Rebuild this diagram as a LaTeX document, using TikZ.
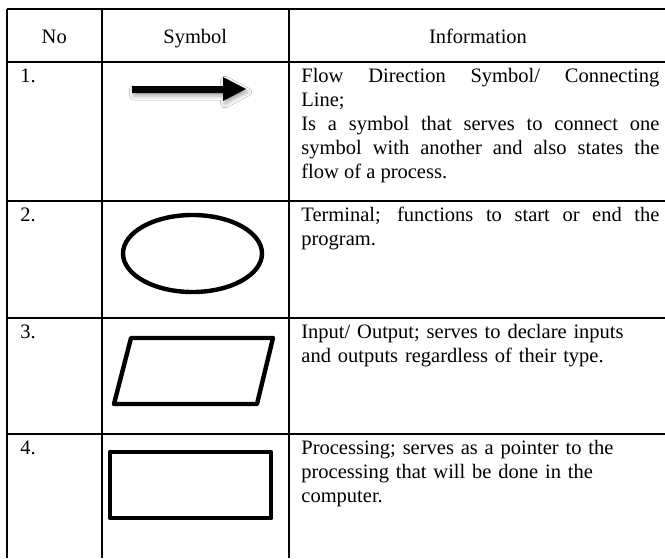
\documentclass[tikz,border=0pt]{standalone}
\usepackage{fontspec}
\setmainfont{Liberation Serif}
\usetikzlibrary{shadows.blur}
\tikzset{
  gridline/.style={line width=1pt},
  symline/.style={line width=2.2pt, line join=round, line cap=round},
  txt/.style={inner sep=0pt, font={\fontsize{10.25}{12}\selectfont\tolerance=10000\hbadness=10000}},
  infojust/.style={txt, anchor=base west, text width=179pt, align=justify},
  infoleft/.style={txt, anchor=base west, text width=179pt, align=left},
  numtxt/.style={txt, anchor=base west},
  headtxt/.style={txt, anchor=base},
}
\begin{document}
\begin{tikzpicture}[x=0.5pt,y=-0.5pt]
\useasboundingbox (0,0) rectangle (665,558);
\fill[white] (0,0) rectangle (665,558);

% table grid
\coordinate (tl) at (7,9);
\draw[gridline] (7,9) -- (665,9);
\draw[gridline] (7,62) -- (665,62);
\draw[gridline] (7,201) -- (665,201);
\draw[gridline] (7,318) -- (665,318);
\draw[gridline] (7,434) -- (665,434);
\draw[gridline] (7,9) -- (7,558);
\draw[gridline] (101.5,9) -- (101.5,558);
\draw[gridline] (289,9) -- (289,558);

% header
\node[headtxt] (hno) at (54.25,43) {No};
\node[headtxt] (hsym) at (195.25,43) {Symbol};
\node[headtxt] (hinfo) at (478,43) {Information};

% numbers
\node[numtxt] (n1) at (20,82.5) {1.};
\node[numtxt] (n2) at (20,221.5) {2.};
\node[numtxt] (n3) at (20,338.5) {3.};
\node[numtxt] (n4) at (20,454.5) {4.};

% information
\node[infojust] (i1) at (301,82.5) {Flow Direction Symbol/ Connecting\linebreak Line;\\ Is a symbol that serves to connect one\linebreak symbol with another and also states the\linebreak flow of a process.};
\node[infojust] (i2) at (301,221.5) {Terminal; functions to start or end the\linebreak program.};
\node[infoleft] (i3) at (301,338.5) {Input/ Output; serves to declare inputs\\ and outputs regardless of their type.};
\node[infoleft] (i4) at (301,454.5) {Processing; serves as a pointer to the\\ processing that will be done in the\\ computer.};

% symbols
\fill[black, blur shadow={shadow xshift=0.8pt, shadow yshift=-1.5pt, shadow blur radius=2pt, shadow opacity=35}]
  (132,86) -- (223,86) -- (223,77) -- (246,89) -- (223,101) -- (223,93) -- (132,93) -- cycle;
\draw[symline] (192.5,253.5) ellipse [x radius=34.75pt, y radius=19.25pt];
\draw[symline] (131,338) -- (273,338) -- (257,404) -- (114,404) -- cycle;
\draw[symline] (110,452) rectangle (271,518);
\end{tikzpicture}
\end{document}
